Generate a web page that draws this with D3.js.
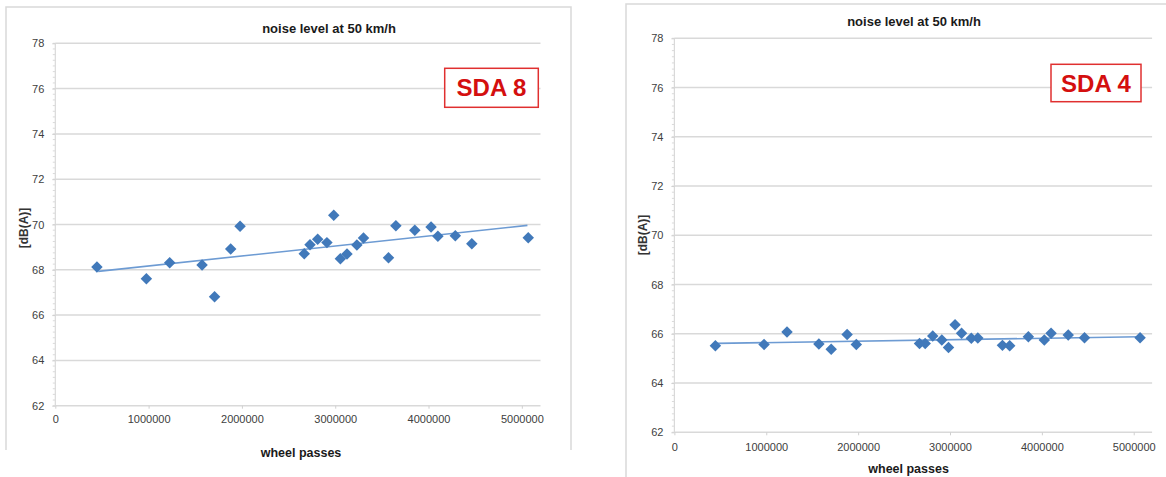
<!DOCTYPE html>
<html>
<head>
<meta charset="utf-8">
<script src="https://cdn.jsdelivr.net/npm/d3@7"></script>
<style>
  html, body { margin: 0; padding: 0; background: #ffffff; }
  svg { display: block; font-family: "Liberation Sans", Arial, sans-serif; }
</style>
</head>
<body>
<svg id="chart" width="1166" height="477"></svg>
<script>
// ---- data ----
const wheelPasses = [446000, 976000, 1226000, 1573000, 1707000, 1880000, 1980000,
  2668000, 2730000, 2812000, 2911000, 2984000, 3055000, 3126000, 3232000, 3303000,
  3571000, 3650000, 3853000, 4027000, 4100000, 4287000, 4464000, 5069000];
const sda8Noise = [68.12, 67.61, 68.31, 68.21, 66.81, 68.92, 69.92,
  68.71, 69.11, 69.35, 69.20, 70.41, 68.49, 68.70, 69.09, 69.40,
  68.53, 69.95, 69.75, 69.89, 69.48, 69.50, 69.15, 69.42];
const sda4Noise = [65.51, 65.57, 66.07, 65.59, 65.37, 65.97, 65.57,
  65.61, 65.61, 65.91, 65.75, 65.44, 66.37, 66.02, 65.82, 65.83,
  65.53, 65.51, 65.88, 65.75, 66.02, 65.95, 65.84, 65.84];
const trendX = [460000, 5060000];
const sda8Trend = [67.93, 69.96];
const sda4Trend = [65.61, 65.88];
const yTicks = [62, 64, 66, 68, 70, 72, 74, 76, 78];
const xTicks = [0, 1000000, 2000000, 3000000, 4000000, 5000000];
const chartTitle = "noise level at 50 km/h";
const xTitle = "wheel passes";
const yTitle = "[dB(A)]";
const panelLabels = ["SDA 8", "SDA 4"];

const svg = d3.select("#chart");

function drawPanel(o) {
  const g = svg.append("g");
  // frame
  g.append("path")
    .attr("d", `M${o.frame[0]},${o.frame[3]}V${o.frame[1]}H${o.frame[2]}V${o.frame[3]}`)
    .attr("fill", "none").attr("stroke", "#d9d9d9").attr("stroke-width", 1.5);

  const x = d3.scaleLinear().domain([0, 5200000]).range(o.xr);
  const y = d3.scaleLinear().domain([62, 78]).range(o.yr);

  // gridlines
  g.append("g").selectAll("line").data(yTicks).join("line")
    .attr("x1", o.xr[0]).attr("x2", o.xr[1])
    .attr("y1", d => y(d)).attr("y2", d => y(d))
    .attr("stroke", "#d9d9d9").attr("stroke-width", 1.5);

  // y axis line with minor ticks
  const minor = d3.range(62, 78.001, 0.25);
  g.append("g").selectAll("line").data(minor).join("line")
    .attr("x1", o.xr[0] - 2.5).attr("x2", o.xr[0])
    .attr("y1", d => y(d)).attr("y2", d => y(d))
    .attr("stroke", "#d0d0d0").attr("stroke-width", 0.8);
  g.append("line").attr("x1", o.xr[0]).attr("x2", o.xr[0])
    .attr("y1", o.yr[0]).attr("y2", o.yr[1])
    .attr("stroke", "#d9d9d9").attr("stroke-width", 1.2);

  // y axis labels
  const yAxis = d3.axisLeft(y).tickValues(yTicks).tickSize(3).tickPadding(o.yPad);
  const ya = g.append("g").attr("transform", `translate(${o.xr[0]},0)`).call(yAxis);
  ya.select(".domain").remove();
  ya.selectAll("line").attr("stroke", "#d0d0d0");
  ya.selectAll("text").attr("fill", "#404040").attr("font-size", 11);

  // x axis labels
  const xAxis = d3.axisBottom(x).tickValues(xTicks).tickFormat(d3.format("d")).tickSize(3).tickPadding(o.xPad);
  const xa = g.append("g").attr("transform", `translate(0,${o.yr[0]})`).call(xAxis);
  xa.select(".domain").remove();
  xa.selectAll("line").attr("stroke", "#d0d0d0");
  xa.selectAll("text").attr("fill", "#404040").attr("font-size", 11);

  // titles
  g.append("text").attr("x", o.title[0]).attr("y", o.title[1])
    .attr("text-anchor", "middle").attr("font-weight", "bold").attr("font-size", 13)
    .attr("fill", "#1a1a1a").text(chartTitle);
  g.append("text").attr("x", o.xt[0]).attr("y", o.xt[1])
    .attr("text-anchor", "middle").attr("font-weight", "bold").attr("font-size", 12.5)
    .attr("fill", "#1a1a1a").text(xTitle);
  g.append("text").attr("transform", `translate(${o.yt[0]},${o.yt[1]}) rotate(-90)`)
    .attr("text-anchor", "middle").attr("font-weight", "bold").attr("font-size", 12)
    .attr("fill", "#333").text(yTitle);

  // trend line
  const line = d3.line().x(d => x(d[0])).y(d => y(d[1]));
  g.append("path").datum(trendX.map((v, i) => [v, o.trend[i]]))
    .attr("d", line).attr("fill", "none")
    .attr("stroke", "#6d9bd3").attr("stroke-width", 1.6);

  // markers
  const diamond = d3.symbol().type(d3.symbolSquare).size(66);
  g.append("g").selectAll("path").data(wheelPasses.map((v, i) => [v, o.vals[i]])).join("path")
    .attr("d", diamond)
    .attr("transform", d => `translate(${x(d[0])},${y(d[1])}) rotate(45)`)
    .attr("fill", "#4179ba");

  // label box
  g.append("rect").attr("x", o.box[0]).attr("y", o.box[1])
    .attr("width", o.box[2] - o.box[0]).attr("height", o.box[3] - o.box[1])
    .attr("fill", "#ffffff").attr("stroke", "#e03030").attr("stroke-width", 1.5);
  g.append("text").attr("x", (o.box[0] + o.box[2]) / 2).attr("y", (o.box[1] + o.box[3]) / 2 + 8.5)
    .attr("text-anchor", "middle").attr("font-weight", "bold").attr("font-size", 24)
    .attr("fill", "#d40f0f").text(o.label);
}

drawPanel({
  frame: [6, 7, 571, 450],
  xr: [55.3, 540.5], yr: [405.7, 43.3],
  yPad: 8, xPad: 7,
  title: [329, 33], xt: [301, 457], yt: [28, 228],
  vals: sda8Noise, trend: sda8Trend, label: panelLabels[0],
  box: [444.7, 68.3, 538.3, 107.3]
});
drawPanel({
  frame: [626, 4, 1170, 480],
  xr: [674.4, 1152.1], yr: [432.3, 38.3],
  yPad: 8, xPad: 8,
  title: [914, 26], xt: [908.6, 472.5], yt: [647, 235],
  vals: sda4Noise, trend: sda4Trend, label: panelLabels[1],
  box: [1051, 64.3, 1141, 101.7]
});
</script>
</body>
</html>
